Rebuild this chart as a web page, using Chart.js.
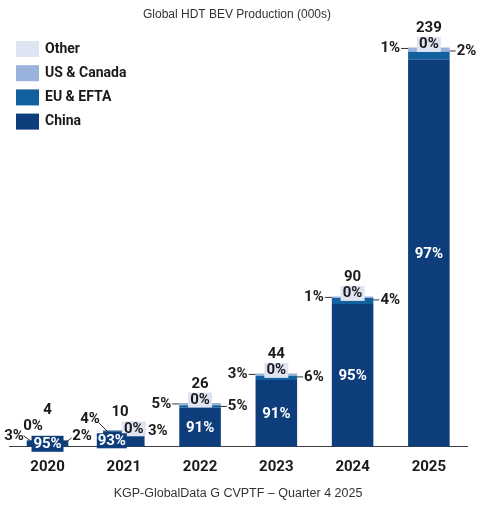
<!DOCTYPE html>
<html>
<head>
<meta charset="utf-8">
<script src="https://cdn.jsdelivr.net/npm/chart.js@4.4.1/dist/chart.umd.min.js"></script>
<style>
html,body{margin:0;padding:0;background:#fff;}
#wrap{position:relative;width:480px;height:508px;}
</style>
</head>
<body>
<div id="wrap"><canvas id="c" width="480" height="508"></canvas></div>
<script>
// ---- data (thousands of vehicles) ----
const years = ['2020', '2021', '2022', '2023', '2024', '2025'];
const totals = [4, 10, 26, 44, 90, 239];
const china = [3.8, 9.3, 23.6, 40.0, 85.5, 231.8];
const euEfta = [0.08, 0.3, 1.3, 2.6, 3.6, 4.8];
const usCanada = [0.12, 0.4, 1.3, 1.3, 0.9, 2.4];
const other = [0.0, 0.0, 0.05, 0.05, 0.05, 0.1];
const chinaPct = [95, 93, 91, 91, 95, 97];
const euPct = [2, 3, 5, 6, 4, 2];
const usPct = [3, 4, 5, 3, 1, 1];
const otherPct = [0, 0, 0, 0, 0, 0];

const COL = {china:'#0e3d7b', eu:'#13609f', us:'#9ab3dc', other:'#dfe4f2', text:'#1a1a1a'};
const BOLD = 'bold 15px Roboto, "Liberation Sans", sans-serif';

// label placement tweaks for the very small bars (relative to bar centre / baseline)
const smallBarLayout = {
  0: {total:[0,-37], other:[-14.5,-21,false], left:[-33.5,-11,[-24,-11,-17,-6]], right:[34.5,-11,[17,-3,24,-9]], china:[0,-3,32,16]},
  1: {total:[-3.8,-35], other:[10,-18,true], left:[-33.8,-28,[-25,-24,-11,-10]], right:[34,-16,null], china:[-12,-6,30,15]}
};

function txt(ctx, s, x, y, color, align){
  ctx.fillStyle = color; ctx.textAlign = align || 'center'; ctx.textBaseline = 'middle';
  ctx.fillText(s, x, y);
}
function line(ctx, x1, y1, x2, y2){
  ctx.strokeStyle = '#333'; ctx.lineWidth = 1;
  ctx.beginPath(); ctx.moveTo(x1, y1); ctx.lineTo(x2, y2); ctx.stroke();
}

const labelsPlugin = {
  id: 'labels',
  afterDatasetsDraw(chart){
    const ctx = chart.ctx;
    const x = chart.scales.x, y = chart.scales.y;
    const base = y.getPixelForValue(0);
    ctx.save();
    ctx.font = BOLD;
    years.forEach((yr, i) => {
      const xc = x.getPixelForValue(i);
      const barMeta = chart.getDatasetMeta(0).data[i];
      const hw = barMeta.width / 2;
      const top = y.getPixelForValue(china[i] + euEfta[i] + usCanada[i] + other[i]);
      const chinaTop = y.getPixelForValue(china[i]);
      const L = smallBarLayout[i];
      if (L) {
        txt(ctx, String(totals[i]), xc + L.total[0], base + L.total[1], COL.text);
        const ow = 24, oh = 15;
        if (L.other[2]) { ctx.fillStyle = COL.other; ctx.fillRect(xc + L.other[0] - ow/2, base + L.other[1] - oh/2, ow, oh); }
        txt(ctx, otherPct[i] + '%', xc + L.other[0], base + L.other[1], COL.text);
        txt(ctx, usPct[i] + '%', xc + L.left[0], base + L.left[1], COL.text);
        if (L.left[2]) { const q = L.left[2]; line(ctx, xc+q[0], base+q[1], xc+q[2], base+q[3]); }
        txt(ctx, euPct[i] + '%', xc + L.right[0], base + L.right[1], COL.text);
        if (L.right[2]) { const q = L.right[2]; line(ctx, xc+q[0], base+q[1], xc+q[2], base+q[3]); }
        const c = L.china;
        ctx.fillStyle = COL.china; ctx.fillRect(xc + c[0] - c[2]/2, base + c[1] - c[3]/2, c[2], c[3]);
        txt(ctx, chinaPct[i] + '%', xc + c[0], base + c[1] + 0.5, '#ffffff');
      } else {
        txt(ctx, String(totals[i]), xc, top - 19, COL.text);
        ctx.fillStyle = COL.other; ctx.fillRect(xc - 12, top - 3 - 7.5, 24, 15);
        txt(ctx, otherPct[i] + '%', xc, top - 3, COL.text);
        txt(ctx, usPct[i] + '%', xc - hw - 8, top + 1, COL.text, 'right');
        line(ctx, xc - hw - 7, top + 1, xc - hw, top + 1);
        txt(ctx, euPct[i] + '%', xc + hw + 7, top + 3.5, COL.text, 'left');
        line(ctx, xc + hw, top + 3.5, xc + hw + 6, top + 3.5);
        txt(ctx, chinaPct[i] + '%', xc, (chinaTop + base) / 2 + 1, '#ffffff');
      }
    });
    ctx.restore();
  },
  afterDraw(chart){
    const ctx = chart.ctx;
    ctx.save();
    ctx.font = '12px "Liberation Sans", Arial, sans-serif';
    txt(ctx, 'Global HDT BEV Production (000s)', 237, 15, '#333');
    ctx.font = '12.5px "Liberation Sans", Arial, sans-serif';
    txt(ctx, 'KGP-GlobalData G CVPTF \u2013 Quarter 4 2025', 238, 494, '#333');
    // legend (top to bottom: reverse of stacking order)
    const items = chart.data.datasets.slice().reverse();
    ctx.font = 'bold 14px Roboto, "Liberation Sans", sans-serif';
    items.forEach((ds, k) => {
      const yc = 49 + k * 24.2;
      ctx.fillStyle = ds.backgroundColor;
      ctx.fillRect(16, yc - 8, 23, 16);
      txt(ctx, ds.label, 45, yc, COL.text, 'left');
    });
    ctx.restore();
  }
};

new Chart(document.getElementById('c'), {
  type: 'bar',
  data: {
    labels: years,
    datasets: [
      {label: 'China', data: china, backgroundColor: COL.china},
      {label: 'EU & EFTA', data: euEfta, backgroundColor: COL.eu},
      {label: 'US & Canada', data: usCanada, backgroundColor: COL.us},
      {label: 'Other', data: other, backgroundColor: COL.other}
    ]
  },
  options: {
    responsive: false,
    animation: false,
    devicePixelRatio: 1,
    layout: {padding: {left: 9.4, right: 13, top: 29.25, bottom: 29.2}},
    plugins: {legend: {display: false}, title: {display: false}, tooltip: {enabled: false}},
    datasets: {bar: {barPercentage: 1, categoryPercentage: 0.545, borderWidth: 0}},
    scales: {
      x: {
        stacked: true,
        grid: {display: false},
        border: {display: true, color: '#404040', width: 1},
        ticks: {color: COL.text, font: {family: 'Roboto, "Liberation Sans", sans-serif', size: 15, weight: 'bold'}}
      },
      y: {stacked: true, display: false, min: 0, max: 250}
    }
  },
  plugins: [labelsPlugin]
});
</script>
</body>
</html>
